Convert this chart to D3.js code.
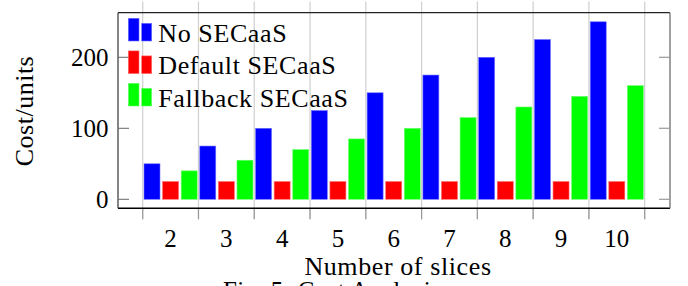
<!DOCTYPE html>
<html>
<head>
<meta charset="utf-8">
<script src="https://cdn.jsdelivr.net/npm/d3@7"></script>
<style>
    body { margin: 0; background: #fff; }
    text { font-family: "Liberation Serif", "Times New Roman", serif; fill: #000; }
</style>
</head>
<body>
<div id="chart"></div>
<script>
// Chart data
const slices = [2, 3, 4, 5, 6, 7, 8, 9, 10];
const noSecaas = [50, 75, 100, 125, 150, 175, 200, 225, 250];
const defaultSecaas = [25, 25, 25, 25, 25, 25, 25, 25, 25];
const fallbackSecaas = [40, 55, 70, 85, 100, 115, 130, 145, 160];
const seriesNames = ['No SECaaS', 'Default SECaaS', 'Fallback SECaaS'];
const seriesColors = ['#0000ff', '#ff0000', '#00ff00'];
const seriesStroke = ['#7070ff', '#ff7070', '#70ff70'];
const yTicks = [0, 100, 200];

const width = 688, height = 286;
// axis box
const box = { left: 118, right: 670, top: 12.7, bottom: 208.3 };

const svg = d3.select("#chart").append("svg")
    .attr("width", width)
    .attr("height", height);

const x = d3.scaleBand()
    .domain(slices)
    .range([142.7, 644.7])
    .padding(0);

const xInner = d3.scaleBand()
    .domain(seriesNames)
    .range([0, x.bandwidth()])
    .paddingInner(0.14)
    .paddingOuter(0.07);

const y = d3.scaleLinear()
    .domain([-12.7, 262.8])
    .range([box.bottom, box.top]);

// vertical grid lines at the group borders (with outside ticks top & bottom)
const gridX = slices.map(s => x(s)).concat([x(slices[slices.length - 1]) + x.bandwidth()]);
svg.append("g")
    .selectAll("line")
    .data(gridX)
    .enter().append("line")
    .attr("x1", d => d).attr("x2", d => d)
    .attr("y1", 1.5).attr("y2", box.bottom + 11)
    .style("stroke", "#cfcfcf")
    .style("stroke-width", 1.2);

// darker tick stubs under the axis
svg.append("g")
    .selectAll("line")
    .data(gridX)
    .enter().append("line")
    .attr("x1", d => d).attr("x2", d => d)
    .attr("y1", box.bottom).attr("y2", box.bottom + 11)
    .style("stroke", "#999")
    .style("stroke-width", 1.2);

// bars
const rows = slices.map((s, i) => ({ slice: s, values: [noSecaas[i], defaultSecaas[i], fallbackSecaas[i]] }));

const group = svg.append("g")
    .selectAll("g")
    .data(rows)
    .enter().append("g")
    .attr("transform", d => `translate(${x(d.slice)},0)`);

group.selectAll("rect")
    .data(d => d.values.map((v, k) => ({ name: seriesNames[k], value: v, k: k })))
    .enter().append("rect")
    .attr("x", d => xInner(d.name))
    .attr("width", xInner.bandwidth())
    .attr("y", d => y(d.value))
    .attr("height", d => y(0) - y(d.value))
    .style("fill", d => seriesColors[d.k])
    .style("stroke", d => seriesStroke[d.k])
    .style("stroke-width", 0.6);

// axis frame
svg.append("line")
    .attr("x1", box.left).attr("x2", box.right)
    .attr("y1", box.top).attr("y2", box.top)
    .style("stroke", "#222").style("stroke-width", 1.2);
svg.append("line")
    .attr("x1", box.left).attr("x2", box.right)
    .attr("y1", box.bottom).attr("y2", box.bottom)
    .style("stroke", "#000").style("stroke-width", 1.4);
svg.append("line")
    .attr("x1", box.left).attr("x2", box.left)
    .attr("y1", box.top).attr("y2", box.bottom)
    .style("stroke", "#333").style("stroke-width", 1.2);
svg.append("line")
    .attr("x1", box.right).attr("x2", box.right)
    .attr("y1", box.top).attr("y2", box.bottom)
    .style("stroke", "#777").style("stroke-width", 1.4);

// y ticks inside on both sides
const yTickG = svg.append("g");
yTickG.selectAll(".tl")
    .data(yTicks)
    .enter().append("line")
    .attr("x1", box.left).attr("x2", box.left + 11)
    .attr("y1", d => y(d)).attr("y2", d => y(d))
    .style("stroke", "#666").style("stroke-width", 1);
yTickG.selectAll(".tr")
    .data(yTicks)
    .enter().append("line")
    .attr("x1", box.right - 11).attr("x2", box.right)
    .attr("y1", d => y(d)).attr("y2", d => y(d))
    .style("stroke", "#999").style("stroke-width", 1.2);

// y tick labels
svg.append("g")
    .selectAll("text")
    .data(yTicks)
    .enter().append("text")
    .attr("x", 108.5)
    .attr("y", d => y(d))
    .attr("dy", "0.33em")
    .attr("text-anchor", "end")
    .style("font-size", "25px")
    .text(d => d);

// x tick labels (centered on the groups)
svg.append("g")
    .selectAll("text")
    .data(slices)
    .enter().append("text")
    .attr("x", d => x(d) + x.bandwidth() / 2)
    .attr("y", 246.5)
    .attr("text-anchor", "middle")
    .style("font-size", "25px")
    .text(d => d);

// axis labels
svg.append("text")
    .attr("transform", "translate(33,111) rotate(-90)")
    .attr("text-anchor", "middle")
    .style("font-size", "26px")
    .style("letter-spacing", "0.5px")
    .text("Cost/units");

svg.append("text")
    .attr("x", 398)
    .attr("y", 275)
    .attr("text-anchor", "middle")
    .style("font-size", "26px")
    .style("letter-spacing", "0.6px")
    .text("Number of slices");

// caption (cut off by the bottom edge, as in the figure)
svg.append("text")
    .attr("x", 223)
    .attr("y", 299)
    .style("font-size", "25px")
    .style("letter-spacing", "0.4px")
    .text("Fig. 5: Cost Analysis");

// legend, no frame
const legendBaselines = [41.7, 74.3, 106.7];
const legend = svg.append("g")
    .selectAll("g")
    .data(seriesNames)
    .enter().append("g")
    .attr("transform", (d, i) => `translate(0,${legendBaselines[i]})`);

legend.append("rect")
    .attr("x", 128.3).attr("y", -23.4)
    .attr("width", 10.7).attr("height", 22.7)
    .style("fill", (d, i) => seriesColors[i])
    .style("stroke", (d, i) => seriesStroke[i])
    .style("stroke-width", 0.6);
legend.append("rect")
    .attr("x", 141.7).attr("y", -18.4)
    .attr("width", 10).attr("height", 17.7)
    .style("fill", (d, i) => seriesColors[i])
    .style("stroke", (d, i) => seriesStroke[i])
    .style("stroke-width", 0.6);
legend.append("text")
    .attr("x", 158.3)
    .attr("y", 0)
    .style("font-size", "26px")
    .style("letter-spacing", "0.6px")
    .text(d => d);
</script>
</body>
</html>
